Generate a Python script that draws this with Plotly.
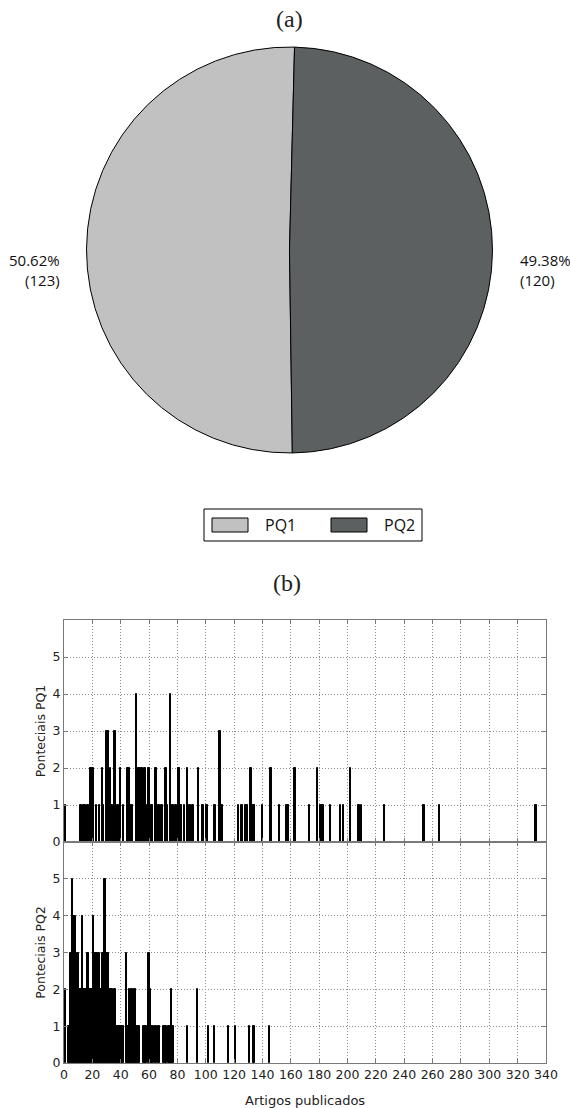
import plotly.graph_objects as go

# ---------------- data ----------------
pie_labels = ["PQ1", "PQ2"]
pie_values = [123, 120]
pie_colors = ["#c0c1c0", "#5d6060"]

# number of published articles (x) and number of potential researchers (y)
pq1_articles = [1, 12, 14, 15, 17, 19, 20, 21, 23, 25, 27, 28, 30, 31, 33, 34, 36, 38, 40, 42,
                45, 46, 47, 48, 51, 52, 53, 54, 55, 56, 57, 59, 60, 62, 65, 67, 69, 72, 73, 75,
                77, 79, 81, 82, 83, 85, 87, 89, 91, 95, 98, 101, 106, 107, 110, 111, 112,
                123, 125, 126, 128, 129, 132, 133, 134, 140, 146, 152, 157, 158, 163, 173,
                179, 181, 182, 183, 188, 195, 197, 202, 208, 210, 226, 254, 265, 333]
pq1_counts = [1, 1, 1, 1, 1, 2, 2, 2, 1, 1, 2, 1, 3, 3, 2, 1, 3, 1, 2, 1,
              2, 2, 1, 1, 4, 2, 2, 2, 2, 1, 2, 1, 2, 1, 2, 1, 1, 2, 1, 4,
              1, 1, 2, 1, 1, 1, 2, 1, 1, 2, 1, 1, 1, 1, 3, 1, 1,
              1, 1, 1, 1, 1, 2, 1, 1, 1, 2, 1, 1, 1, 2, 1,
              2, 1, 1, 1, 1, 1, 1, 2, 1, 1, 1, 1, 1, 1]

pq2_articles = [1, 3, 4, 5, 6, 7, 8, 9, 10, 11, 12, 13, 14, 15, 16, 17, 18, 19, 20, 21,
                22, 23, 24, 25, 26, 27, 28, 29, 30, 31, 32, 33, 34, 35, 36, 37, 38, 39, 40,
                41, 42, 44, 45, 46, 47, 48, 49, 50, 51, 52, 53, 56, 57, 58, 60, 61, 62, 63,
                65, 67, 70, 71, 72, 74, 75, 76, 77, 87, 94, 102, 106, 116, 121, 131, 134, 145]
pq2_counts = [2, 1, 1, 3, 5, 4, 4, 2, 3, 2, 2, 4, 2, 2, 2, 3, 2, 2, 2, 4,
              3, 3, 3, 3, 2, 3, 3, 5, 3, 3, 2, 2, 2, 1, 2, 1, 1, 1, 1,
              1, 1, 3, 1, 2, 1, 2, 1, 2, 1, 1, 1, 1, 1, 1, 3, 2, 1, 1,
              1, 1, 1, 1, 1, 1, 1, 2, 1, 1, 2, 1, 1, 1, 1, 1, 1, 1]

x_ticks = list(range(0, 341, 20))
y_ticks = [0, 1, 2, 3, 4, 5]

# ---------------- figure ----------------
W, H = 570, 1108


def px(x):
    return x / W


def py(y):
    return 1 - y / H


fig = go.Figure()

fig.add_trace(go.Pie(
    labels=pie_labels, values=pie_values, sort=False,
    direction="clockwise", rotation=179.2,
    marker=dict(colors=pie_colors, line=dict(color="black", width=1)),
    textinfo="none", hoverinfo="label+value+percent", showlegend=False,
    domain=dict(x=[px(289.5 - 203), px(289.5 + 203)], y=[py(250 + 203), py(250 - 203)]),
))

bar_style = dict(color="black", line=dict(color="black", width=1))
fig.add_trace(go.Bar(x=pq1_articles, y=pq1_counts, width=1, marker=bar_style,
                     xaxis="x", yaxis="y", showlegend=False, name="PQ1"))
fig.add_trace(go.Bar(x=pq2_articles, y=pq2_counts, width=1, marker=bar_style,
                     xaxis="x2", yaxis="y2", showlegend=False, name="PQ2"))

tick_font = dict(family="DejaVu Sans", size=12.5, color="#222")
frame = "#7a7a7a"
grid = "#8c8c8c"
dots = "1px,2px"


def xaxis_style(**kw):
    d = dict(domain=[px(64), px(546)], range=[0, 340], tickmode="array", tickvals=x_ticks,
             showgrid=True, gridcolor=grid, griddash=dots, gridwidth=1,
             showline=True, linecolor=frame, linewidth=1.3, mirror="ticks",
             ticks="inside", ticklen=4, tickcolor=frame, zeroline=False,
             automargin=False, tickfont=tick_font)
    d.update(kw)
    return d


def yaxis_style(**kw):
    d = dict(range=[0, 6], tickvals=y_ticks,
             showgrid=True, gridcolor=grid, griddash=dots, gridwidth=1,
             showline=True, linecolor=frame, linewidth=1.3, mirror="ticks",
             ticks="inside", ticklen=4, tickcolor=frame, zeroline=False,
             automargin=False, tickfont=tick_font)
    d.update(kw)
    return d


fig.update_layout(
    template="none",
    width=W, height=H, margin=dict(l=0, r=0, t=0, b=0),
    paper_bgcolor="white", plot_bgcolor="white",
    bargap=0,
)
fig.update_layout(
    xaxis=xaxis_style(anchor="y", showticklabels=False),
    yaxis=yaxis_style(domain=[py(842), py(620)], anchor="x",
                      title=dict(text="Ponteciais PQ1", standoff=4,
                                 font=dict(family="DejaVu Sans", size=12.5, color="#222"))),
    xaxis2=xaxis_style(anchor="y2", showticklabels=True),
    yaxis2=yaxis_style(domain=[py(1063), py(842)], anchor="x2",
                       title=dict(text="Ponteciais PQ2", standoff=4,
                                  font=dict(family="DejaVu Sans", size=12.5, color="#222"))),
)

total = sum(pie_values)
pie_texts = [f"{v / total * 100:.2f}%<br>({v})" for v in pie_values]
label_font = dict(family="Open Sans", size=15, color="#111")
annotations = [
    dict(text="(a)", x=px(289), y=py(19), xref="paper", yref="paper", showarrow=False,
         xanchor="center", yanchor="middle",
         font=dict(family="Liberation Serif", size=24, color="#222")),
    dict(text="(b)", x=px(287), y=py(583), xref="paper", yref="paper", showarrow=False,
         xanchor="center", yanchor="middle",
         font=dict(family="Liberation Serif", size=24, color="#222")),
    dict(text=pie_texts[0], x=px(62), y=py(270), xref="paper", yref="paper", showarrow=False,
         xanchor="right", yanchor="middle", align="right", font=label_font),
    dict(text=pie_texts[1], x=px(518), y=py(270), xref="paper", yref="paper", showarrow=False,
         xanchor="left", yanchor="middle", align="left", font=label_font),
    dict(text="Artigos publicados", x=0.5, xref="x2 domain", y=py(1100), yref="paper",
         showarrow=False, xanchor="center", yanchor="middle",
         font=dict(family="DejaVu Sans", size=13, color="#222")),
]

leg_font = dict(family="Open Sans", size=16, color="#111")
shapes = [
    dict(type="rect", xref="paper", yref="paper", x0=px(204), x1=px(422), y0=py(541), y1=py(509),
         line=dict(color="black", width=1), fillcolor="white", layer="below"),
]
leg_pos = [(212, 263), (331, 382)]
for (rx, tx), lab, col in zip(leg_pos, pie_labels, pie_colors):
    shapes.append(dict(type="rect", xref="paper", yref="paper", x0=px(rx), x1=px(rx + 36),
                       y0=py(532), y1=py(518), line=dict(color="black", width=1), fillcolor=col))
    annotations.append(dict(text=lab, x=px(tx), y=py(525), xref="paper", yref="paper",
                            showarrow=False, xanchor="left", yanchor="middle", font=leg_font))

fig.update_layout(annotations=annotations, shapes=shapes)
fig.write_html("out.html")
